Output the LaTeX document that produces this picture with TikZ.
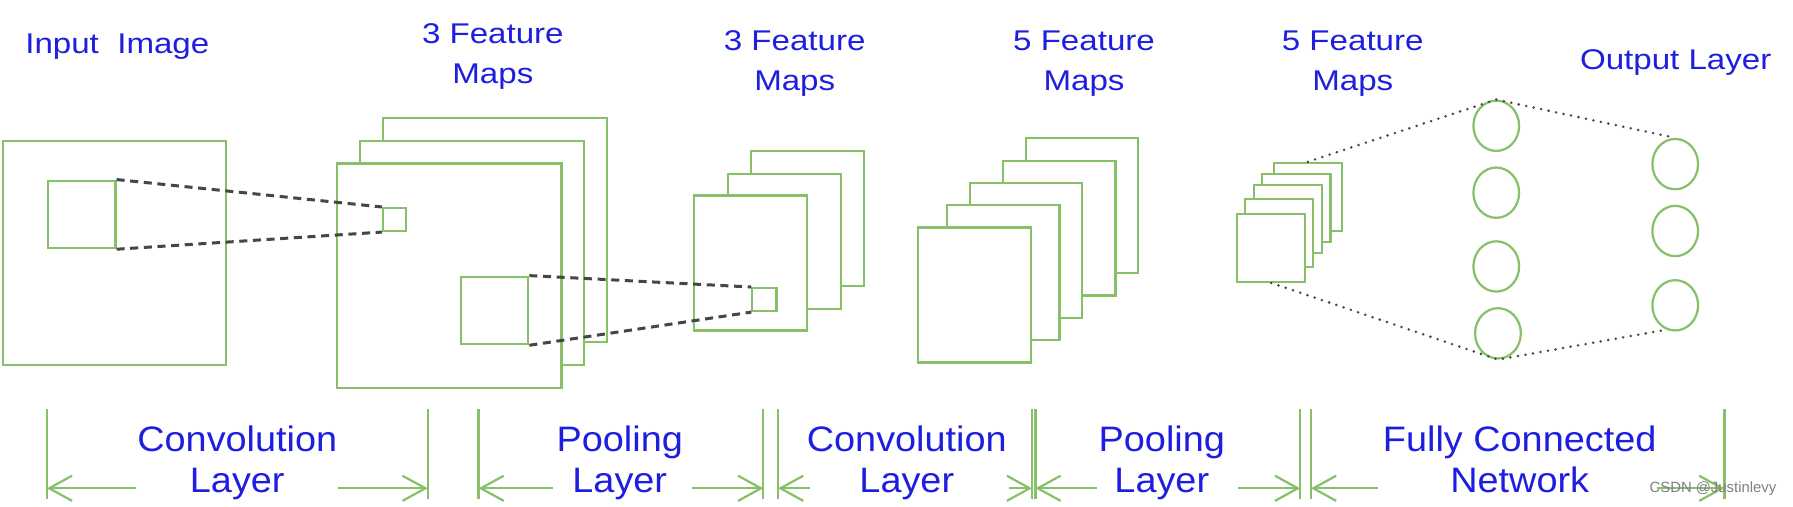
\documentclass[tikz,border=0pt]{standalone}
\usepackage{fontspec}
\setmainfont{Liberation Sans}
\newfontfamily\toplabfont[FakeStretch=1.16]{Liberation Sans}
\newfontfamily\botlabfont[FakeStretch=1.07]{Liberation Sans}
\usetikzlibrary{arrows.meta,shapes.geometric}

\definecolor{lgreen}{RGB}{135,192,105}
\definecolor{lblue}{RGB}{30,30,225}
\definecolor{dgray}{RGB}{70,70,70}

\tikzset{
  mapbox/.style 2 args={draw=lgreen, fill=white, line width=0.55pt, inner sep=0pt,
    anchor=north west, minimum width=#1*0.1mm, minimum height=#2*0.1mm},
  neuron/.style={ellipse, draw=lgreen, line width=0.55pt, inner sep=0pt,
    minimum width=4mm, minimum height=4.4mm},
  toplab/.style={text=lblue, align=center, anchor=base, inner sep=0pt,
    font=\toplabfont\fontsize{7.1}{9.8}\selectfont},
  botlab/.style={text=lblue, align=center, anchor=base, inner sep=0pt,
    font=\botlabfont\fontsize{8.8}{10.2}\selectfont},
  dashline/.style={dgray, line width=0.75pt, dash pattern=on 2pt off 1.4pt},
  dotline/.style={dgray, line width=0.7pt, line cap=round, dash pattern=on 0pt off 1.9pt},
  tickline/.style={lgreen, line width=0.55pt},
  dimarrow/.style={lgreen, line width=0.55pt, -{Straight Barb[length=2mm,width=2.2mm]}}
}

\begin{document}
\begin{tikzpicture}[x=0.1mm, y=-0.1mm]
\path[use as bounding box, fill=white] (0,0) rectangle (1568,443);

% input image
\node[mapbox={195}{196}] (inimg) at (2,122) {};
\node[mapbox={59}{59}] (inwin) at (41,157) {};

% 3 feature maps (convolution)
\foreach \n/\x/\y in {3/334/102, 2/314/122, 1/294/142}
  \node[mapbox={196}{196}] (fa\n) at (\x,\y) {};
\node[mapbox={20}{20}] (fawin) at (334,181) {};
\node[mapbox={59}{59}] (fapool) at (402,241) {};

% 3 feature maps (pooling)
\foreach \n/\x/\y in {3/656/131, 2/636/151, 1/606/170}
  \node[mapbox={98.5}{118}] (fb\n) at (\x,\y) {};
\node[mapbox={21}{20}] (fbwin) at (657,251) {};

% 5 feature maps (convolution)
\foreach \n/\x/\y in {5/896/120, 4/876/139.5, 3/847/159, 2/827/178.5, 1/802/198}
  \node[mapbox={98.5}{118}] (fc\n) at (\x,\y) {};

% 5 feature maps (pooling)
\foreach \n/\x/\y in {5/1113/141.5, 4/1103/151, 3/1095.5/161, 2/1087.5/173, 1/1081/186}
  \node[mapbox={59.5}{59.5}] (fd\n) at (\x,\y) {};

% fully connected part
\foreach \n/\y in {1/110, 2/168.5, 3/233}
  \node[neuron] (h\n) at (1308.5,\y) {};
\node[neuron] (h4) at (1310,291.5) {};
\foreach \n/\y in {1/143.5, 2/202, 3/267}
  \node[neuron] (o\n) at (1465,\y) {};

% receptive fields
\draw[dashline] (inwin.north east) -- (fawin.north west);
\draw[dashline] (inwin.south east) -- (fawin.south west);
\draw[dashline] (fapool.north east) -- (fbwin.north west);
\draw[dashline] (fapool.south east) -- (fbwin.south west);

\draw[dotline] (fd5.north) -- (h1.north) -- (o1.north);
\draw[dotline] (fd1.south) -- (h4.south) -- (o3.250);

% top labels (base = last line)
\node[toplab] (inlab) at (102.6,46.6) {Input~~Image};
\node[toplab] (falab) at (431,72.9) {3 Feature\\Maps};
\node[toplab] (fblab) at (695,78.7) {3 Feature\\Maps};
\node[toplab] (fclab) at (948,78.7) {5 Feature\\Maps};
\node[toplab] (fdlab) at (1183,78.7) {5 Feature\\Maps};
\node[toplab] (outlab) at (1465.4,61.2) {Output Layer};

% layer spans
\foreach \x in {41,374,418.5,667.5,680.5,902.5,905.5,1137,1146.5,1508}
  \draw[tickline] (\x,358) -- (\x,436);
\foreach \s/\e [count=\i] in {119/41, 296/374, 484/418.5, 605/667.5, 708/680.5,
    882/902.5, 959/905.5, 1083/1137, 1205/1146.5, 1449/1508} {
  \coordinate (as\i) at (\s,427);
  \coordinate (ae\i) at (\e,427);
  \draw[dimarrow] (as\i) -- (ae\i);
}
\node[botlab] (convlab) at (207.5,431) {Convolution\\Layer};
\node[botlab] (poollab) at (542,431) {Pooling\\Layer};
\node[botlab] (convlabb) at (793,431) {Convolution\\Layer};
\node[botlab] (poollabb) at (1016,431) {Pooling\\Layer};
\node[botlab] (fclab) at (1329,431) {Fully Connected\\Network};

\node[text=gray, anchor=base, inner sep=0pt, font=\fontsize{3.7}{4}\selectfont]
  (wmark) at (1498,431) {CSDN @Justinlevy};
\end{tikzpicture}
\end{document}
